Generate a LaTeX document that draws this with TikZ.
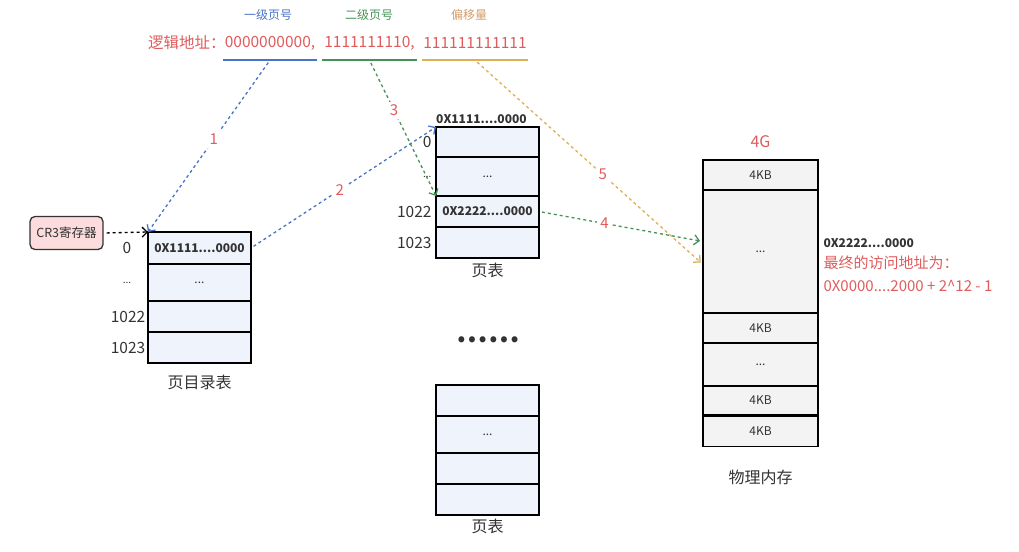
\documentclass[tikz,border=0pt]{standalone}
\usepackage{fontspec}
\setmainfont{Noto Sans CJK SC}
\usetikzlibrary{arrows.meta,positioning}
\definecolor{addrred}{HTML}{E05B5B}
\definecolor{lvblue}{HTML}{4A72C8}
\definecolor{lvgreen}{HTML}{459257}
\definecolor{lvorange}{HTML}{DDB057}
\definecolor{lvtan}{HTML}{D49D6A}
\definecolor{cellblue}{HTML}{EEF3FC}
\definecolor{memgray}{HTML}{F3F3F3}
\definecolor{cr3pink}{HTML}{FCDCDC}
\definecolor{textgray}{HTML}{333333}
\tikzset{
  toplbl/.style={font=\fontsize{12}{14}\selectfont},
  addrseg/.style={text=addrred, font=\fontsize{15.5}{18}\selectfont, minimum height=34pt, inner xsep=0pt},
  ulline/.style={line width=1.8pt},
  tblcell/.style={draw=black, line width=1.6pt, fill=cellblue, minimum width=103pt, inner sep=0pt, outer sep=0pt, text=textgray, font=\fontsize{12}{14}\selectfont},
  hexcell/.style={tblcell, font=\fontsize{12}{14}\selectfont\bfseries},
  memcell/.style={draw=black, line width=1.6pt, fill=memgray, minimum width=115pt, inner sep=0pt, outer sep=0pt, text=textgray, font=\fontsize{12}{14}\selectfont},
  rowlbl/.style={text=textgray, font=\fontsize{15.5}{18}\selectfont},
  rowdots/.style={text=textgray, font=\fontsize{10}{12}\selectfont},
  hexlbl/.style={text=textgray, font=\fontsize{12}{14}\selectfont\bfseries},
  tblcap/.style={text=textgray, font=\fontsize{16}{19}\selectfont},
  rednote/.style={text=addrred, font=\fontsize{15}{23}\selectfont, align=left},
  cr3box/.style={draw=textgray, line width=1.3pt, rounded corners=5pt, fill=cr3pink, minimum width=73pt, minimum height=33pt, inner sep=0pt, text=textgray, font=\fontsize{12.5}{14}\selectfont},
  steplbl/.style={fill=white, text=addrred, inner sep=3pt, font=\fontsize{15}{18}\selectfont},
  dasharrow/.style={-{Straight Barb[length=5pt, width=10pt]}, line width=1.3pt, dash pattern=on 3pt off 3pt},
  bluedash/.style={dasharrow, draw=lvblue},
  greendash/.style={dasharrow, draw=lvgreen},
  orangedash/.style={dasharrow, draw=lvorange},
  blackdash/.style={dasharrow, draw=black}
}
\begin{document}
\begin{tikzpicture}[x=1pt, y=-1pt]
\useasboundingbox (0,0) rectangle (1019,551);
% logical address
\node[toplbl, text=lvblue] (h1) at (268,15) {一级页号};
\node[toplbl, text=lvgreen] (h2) at (369,15) {二级页号};
\node[toplbl, text=lvtan] (h3) at (469,15) {偏移量};
\node[addrseg, minimum width=94pt] (lv1) at (270,43) {0000000000,};
\node[addrseg, minimum width=94pt] (lv2) at (369.5,43) {1111111110,};
\node[addrseg, minimum width=106pt] (lv3) at (475,43) {111111111111};
\node[addrseg, left=-3pt of lv1] (lvname) {逻辑地址：};
\draw[ulline, lvblue] (lv1.south west) -- (lv1.south east);
\draw[ulline, lvgreen] (lv2.south west) -- (lv2.south east);
\draw[ulline, lvorange] (lv3.south west) -- (lv3.south east);

% page directory
\node[cr3box] (cr3) at (66.5,233) {CR3寄存器};
\node[hexcell, minimum height=32pt, anchor=north] (pd0) at (199.5,232) {0X1111....0000};
\node[tblcell, minimum height=37pt, below=0pt of pd0] (pd1) {...};
\node[tblcell, minimum height=31pt, below=0pt of pd1] (pd2) {};
\node[tblcell, minimum height=31pt, below=0pt of pd2] (pd3) {};
\node[rowlbl] (pdl0) at ([xshift=-21pt]pd0.west) {0};
\node[rowdots] (pdl1) at ([xshift=-21pt]pd1.west) {...};
\node[rowlbl] (pdl2) at ([xshift=-20pt]pd2.west) {1022};
\node[rowlbl] (pdl3) at ([xshift=-20pt]pd3.west) {1023};
\node[tblcap, below=9pt of pd3] (pdcap) {页目录表};

% page table 1
\node[tblcell, minimum height=30pt, anchor=north] (pt0) at (487.5,127) {};
\node[tblcell, minimum height=39pt, below=0pt of pt0] (pt1) {...};
\node[hexcell, minimum height=31pt, below=0pt of pt1] (pt2) {0X2222....0000};
\node[tblcell, minimum height=31pt, below=0pt of pt2] (pt3) {};
\node[hexlbl, anchor=south west, inner xsep=0pt] (pthdr) at (pt0.north west) {0X1111....0000};
\node[rowlbl, left=1pt of pt0] (ptl0) {0};
\node[rowdots, left=1pt of pt1] (ptl1) {...};
\node[rowlbl, left=1pt of pt2] (ptl2) {1022};
\node[rowlbl, left=1pt of pt3] (ptl3) {1023};
\node[tblcap, below=2pt of pt3] (ptcap) {页表};

\node[font=\fontsize{28}{30}\selectfont\bfseries, text=textgray] (more) at (488,340) {……};

% page table 2
\node[tblcell, minimum height=31pt, anchor=north] (pu0) at (487.5,385) {};
\node[tblcell, minimum height=37pt, below=0pt of pu0] (pu1) {...};
\node[tblcell, minimum height=31pt, below=0pt of pu1] (pu2) {};
\node[tblcell, minimum height=31pt, below=0pt of pu2] (pu3) {};
\node[tblcap, below=1pt of pu3] (pucap) {页表};

% physical memory
\node[memcell, minimum height=30pt, anchor=north] (pm0) at (760.5,160) {4KB};
\node[memcell, minimum height=123pt, below=0pt of pm0] (pm1) {...};
\node[memcell, minimum height=30pt, below=0pt of pm1] (pm2) {4KB};
\node[memcell, minimum height=43pt, below=0pt of pm2] (pm3) {...};
\node[memcell, minimum height=29pt, below=0pt of pm3] (pm4) {4KB};
\node[memcell, minimum height=30pt, below=1.5pt of pm4] (pm5) {4KB};
\node[rednote, font=\fontsize{16}{19}\selectfont, above=9pt of pm0] (pmsize) {4G};
\node[tblcap, below=20pt of pm5] (pmcap) {物理内存};
\node[hexlbl, right=2pt of pm1, yshift=8.5pt] (paddr) {0X2222....0000};
\node[rednote, anchor=north west] (pnote) at ([yshift=-1pt]paddr.south west) {最终的访问地址为：\\0X0000....2000 + 2\textasciicircum12 - 1};

% lookup steps
\draw[blackdash, shorten <=3pt] (cr3.east) -- (pd0.north west);
\draw[bluedash, shorten <=3pt] (lv1.south) -- node[steplbl, pos=0.46] (n1) {1} (pd0.north west);
\draw[bluedash, shorten <=3pt] (pd0.east) -- node[steplbl, pos=0.48] (n2) {2} (pt0.north west);
\draw[greendash, shorten <=3pt] (lv2.south) -- node[steplbl, pos=0.37] (n3) {3} (pt2.north west);
\draw[greendash, shorten <=3pt, shorten >=3pt] (pt2.east) -- node[steplbl, pos=0.4] (n4) {4} ([yshift=10pt]pm1.west);
\draw[orangedash, shorten <=3pt, shorten >=3pt] (lv3.south) -- node[steplbl, pos=0.56] (n5) {5} ([yshift=-13pt]pm1.west);
\end{tikzpicture}
\end{document}
